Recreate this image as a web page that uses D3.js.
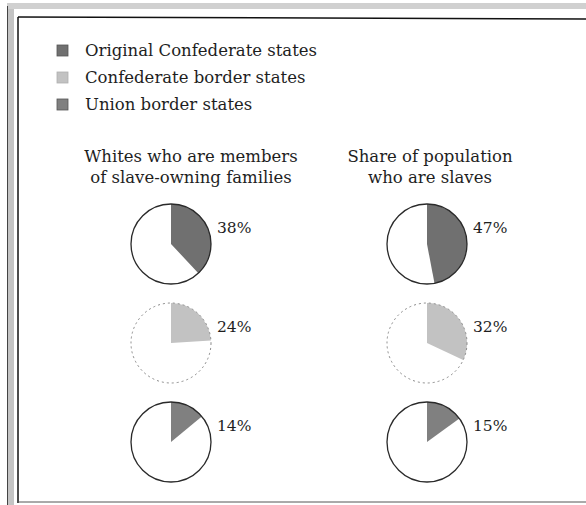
<!DOCTYPE html>
<html>
<head>
<meta charset="utf-8">
<script src="https://cdn.jsdelivr.net/npm/d3@7"></script>
<style>
  html, body { margin: 0; padding: 0; background: #fff; }
  svg { display: block; }
</style>
</head>
<body>
<svg id="chart" width="586" height="505"></svg>
<script>
// ---- data ----
const categories = ["Original Confederate states", "Confederate border states", "Union border states"];
const whitesSlaveOwning = [38, 24, 14];
const slaveShare = [47, 32, 15];
const panelTitles = [["Whites who are members", "of slave-owning families"], ["Share of population", "who are slaves"]];
const seriesList = [whitesSlaveOwning, slaveShare];

// ---- styles ----
const fills = ["#707070", "#c2c2c2", "#808080"];
const outlines = ["#2a2a2a", "#8a8a8a", "#2a2a2a"];
const font = "'DejaVu Serif', serif";

const svg = d3.select("#chart");

// frame (scanned page border)
svg.append("rect").attr("x", 7).attr("y", 3).attr("width", 7).attr("height", 502).attr("fill", "#c4c4c4");
svg.append("rect").attr("x", 7).attr("y", 3).attr("width", 579).attr("height", 6).attr("fill", "#d0d0d0");
svg.append("line").attr("x1", 7.5).attr("x2", 7.5).attr("y1", 6).attr("y2", 505).attr("stroke", "#444").attr("stroke-width", 1);
svg.append("line").attr("x1", 18).attr("x2", 18).attr("y1", 17).attr("y2", 503).attr("stroke", "#111").attr("stroke-width", 1.5);
svg.append("line").attr("x1", 18).attr("x2", 586).attr("y1", 17).attr("y2", 19).attr("stroke", "#111").attr("stroke-width", 1.5);
svg.append("line").attr("x1", 18).attr("x2", 586).attr("y1", 502).attr("y2", 502).attr("stroke", "#555").attr("stroke-width", 1);

// legend
const legendY = d3.scaleBand().domain(categories).range([43, 124]);
const lg = svg.append("g");
categories.forEach((c, i) => {
  const y = legendY(c);
  lg.append("rect").attr("x", 57).attr("y", y + 2).attr("width", 11).attr("height", 11)
    .attr("fill", fills[i]).attr("stroke", i === 1 ? "#b0b0b0" : "#555").attr("stroke-width", 0.8);
  lg.append("text").attr("x", 85).attr("y", y + 13)
    .attr("font-family", font).attr("font-size", 16.5).attr("fill", "#1e1e1e")
    .text(c);
});

// panels
const colX = d3.scalePoint().domain([0, 1]).range([171, 427]);
const rowY = d3.scalePoint().domain([0, 1, 2]).range([244, 442]);
const titleX = [191, 430];
const r = 40;
const pie = d3.pie().sort(null).value(d => d);
const arc = d3.arc().innerRadius(0).outerRadius(r);

seriesList.forEach((vals, p) => {
  const cx = colX(p);
  const t = svg.append("text").attr("text-anchor", "middle")
    .attr("font-family", font).attr("font-size", 16.5).attr("fill", "#1e1e1e");
  panelTitles[p].forEach((line, k) => {
    t.append("tspan").attr("x", titleX[p]).attr("y", 162 + k * 21).text(line);
  });
  vals.forEach((v, i) => {
    const cy = rowY(i);
    const g = svg.append("g").attr("transform", `translate(${cx},${cy})`);
    const arcs = pie([v, 100 - v]);
    g.append("path").attr("d", arc(arcs[0])).attr("fill", fills[i]);
    g.append("circle").attr("r", r).attr("fill", "none")
      .attr("stroke", outlines[i]).attr("stroke-width", i === 1 ? 1 : 1.3)
      .attr("stroke-dasharray", i === 1 ? "2,3" : null);
    g.append("text").attr("x", r + 6).attr("y", -11)
      .attr("font-family", font).attr("font-size", 15.5).attr("fill", "#1e1e1e")
      .text(v + "%");
  });
});
</script>
</body>
</html>
